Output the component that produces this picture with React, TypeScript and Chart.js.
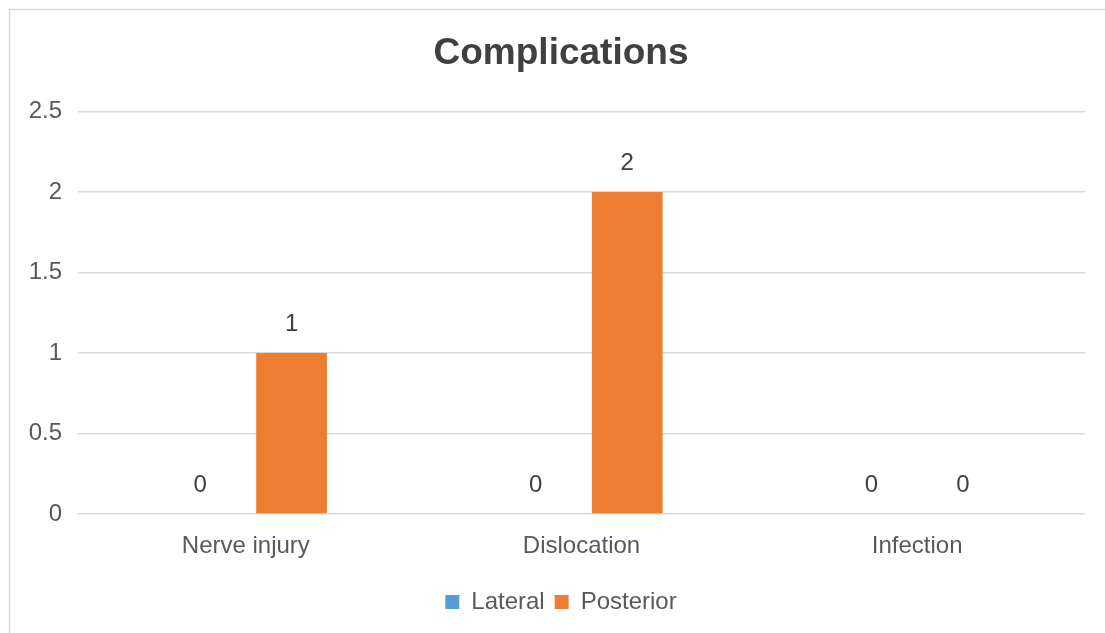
import React, { useEffect, useRef } from "react";
import { Chart, registerables } from "chart.js";

Chart.register(...registerables);

const categories = ["Nerve injury", "Dislocation", "Infection"];
const lateralValues = [0, 0, 0];
const posteriorValues = [1, 2, 0];
const yTicks = [0, 0.5, 1, 1.5, 2, 2.5];

const FONT = "'Liberation Sans', Arial, Helvetica, sans-serif";

const dataLabelPlugin = {
  id: "dataLabels",
  afterDatasetsDraw(chart: any) {
    const ctx = chart.ctx;
    ctx.save();
    ctx.font = `24px ${FONT}`;
    ctx.fillStyle = "#404040";
    ctx.textAlign = "center";
    ctx.textBaseline = "middle";
    chart.data.datasets.forEach((ds: any, i: number) => {
      const meta = chart.getDatasetMeta(i);
      meta.data.forEach((el: any, j: number) => {
        ctx.fillText(String(ds.data[j]), el.x, el.y - 29);
      });
    });
    ctx.restore();
  },
};

const framePlugin = {
  id: "frame",
  beforeDraw(chart: any) {
    const ctx = chart.ctx;
    ctx.save();
    ctx.strokeStyle = "#d9d9d9";
    ctx.lineWidth = 1.5;
    ctx.beginPath();
    ctx.moveTo(9.5, chart.height + 5);
    ctx.lineTo(9.5, 9.5);
    ctx.lineTo(chart.width + 5, 9.5);
    ctx.stroke();
    ctx.restore();
  },
};

export default function App() {
  const ref = useRef<HTMLCanvasElement>(null);
  useEffect(() => {
    if (!ref.current) return;
    const chart = new Chart(ref.current, {
      type: "bar",
      data: {
        labels: categories,
        datasets: [
          {
            label: "Lateral",
            data: lateralValues,
            backgroundColor: "#5B9BD5",
            categoryPercentage: 0.545,
            barPercentage: 0.773,
          },
          {
            label: "Posterior",
            data: posteriorValues,
            backgroundColor: "#ED7D31",
            categoryPercentage: 0.545,
            barPercentage: 0.773,
          },
        ],
      },
      options: {
        animation: false,
        responsive: false,
        maintainAspectRatio: false,
        layout: { padding: { left: 10, right: 0, top: 0, bottom: 9 } },
        plugins: {
          title: {
            display: true,
            text: "Complications",
            color: "#404040",
            font: { family: FONT, size: 37, weight: "bold" },
            padding: { top: 32, bottom: 35 },
          },
          legend: {
            position: "bottom",
            labels: {
              color: "#595959",
              font: { family: FONT, size: 24 },
              boxWidth: 14,
              boxHeight: 14,
              padding: 10,
            },
          },
          tooltip: { enabled: false },
        },
        scales: {
          x: {
            grid: { display: false },
            border: { display: false },
            ticks: { color: "#595959", font: { family: FONT, size: 24 }, padding: 10 },
            afterFit(scale: any) {
              scale.height = 66;
            },
          },
          y: {
            min: 0,
            max: 2.5,
            afterBuildTicks(scale: any) {
              scale.ticks = yTicks.map((v) => ({ value: v }));
            },
            afterFit(scale: any) {
              scale.width = 68;
            },
            grid: { color: "#d9d9d9", lineWidth: 1.5, drawTicks: false },
            border: { display: false },
            ticks: {
              color: "#595959",
              font: { family: FONT, size: 24 },
              padding: 16,
              callback: (v: any) => String(v),
            },
          },
          yRight: {
            position: "right",
            grid: { display: false },
            border: { display: false },
            ticks: { display: false },
            afterFit(scale: any) {
              scale.width = 27;
            },
          },
        },
      },
      plugins: [dataLabelPlugin, framePlugin],
    });
    return () => chart.destroy();
  }, []);
  return (
    <div
      style={{
        position: "fixed",
        left: 0,
        top: 0,
        width: 1105,
        height: 633,
        overflow: "hidden",
        background: "#fff",
      }}
    >
      <canvas ref={ref} width={1112} height={633} style={{ width: 1112, height: 633, display: "block" }} />
    </div>
  );
}
